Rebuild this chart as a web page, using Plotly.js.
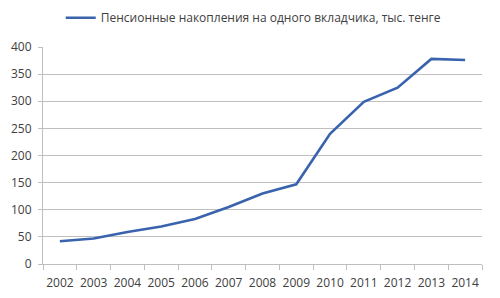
<!DOCTYPE html>
<html>
<head>
<meta charset="utf-8">
<script src="https://cdn.plot.ly/plotly-3.0.1.min.js"></script>
<style>html,body{margin:0;padding:0;background:#fff;}#chart{width:500px;height:298px;}</style>
</head>
<body>
<div id="chart"></div>
<script>
var years = ["2002","2003","2004","2005","2006","2007","2008","2009","2010","2011","2012","2013","2014"];
var savings = [42, 47, 59, 69, 83, 105, 130, 147, 240, 299, 325, 378, 376];
var seriesName = "Пенсионные накопления на одного вкладчика, тыс. тенге";

var trace = {
  x: years,
  y: savings,
  type: "scatter",
  mode: "lines",
  name: seriesName,
  line: {color: "#3a63ad", width: 2.6},
  hoverinfo: "x+y"
};

var layout = {
  width: 500,
  height: 298,
  margin: {l: 43, r: 18, t: 47, b: 34, autoexpand: false},
  paper_bgcolor: "#fff",
  plot_bgcolor: "#fff",
  font: {family: "Open Sans, Liberation Sans, sans-serif", size: 12, color: "#404040"},
  showlegend: true,
  legend: {
    orientation: "h",
    x: 0.48, xanchor: "center",
    y: 1.135, yanchor: "middle",
    font: {size: 12, color: "#404040"},
    bgcolor: "rgba(0,0,0,0)"
  },
  xaxis: {
    type: "category",
    range: [-0.5, 12.5],
    showgrid: false,
    showline: true,
    linecolor: "#bfbfbf",
    linewidth: 1,
    ticks: "outside",
    tickson: "boundaries",
    ticklen: 5,
    tickcolor: "#bfbfbf",
    tickangle: 0,
    ticklabelstandoff: 8,
    tickfont: {size: 12, color: "#404040"},
    zeroline: false,
    fixedrange: true
  },
  yaxis: {
    range: [0, 400],
    dtick: 50,
    tick0: 0,
    showgrid: true,
    gridcolor: "#bfbfbf",
    gridwidth: 1,
    showline: true,
    linecolor: "#bfbfbf",
    ticks: "outside",
    ticklen: 4,
    tickcolor: "#bfbfbf",
    ticklabelstandoff: 4,
    tickfont: {size: 12, color: "#404040"},
    zeroline: false,
    fixedrange: true
  }
};

Plotly.newPlot("chart", [trace], layout, {displayModeBar: false, staticPlot: true});
</script>
</body>
</html>
